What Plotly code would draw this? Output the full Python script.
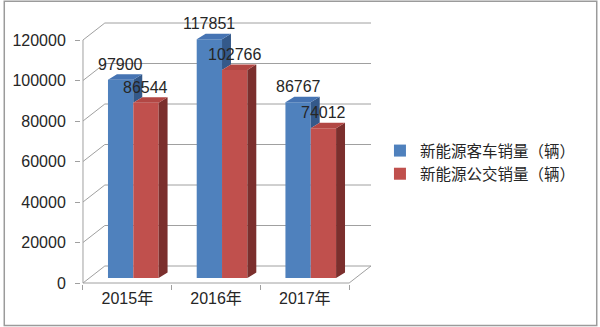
import plotly.graph_objects as go

# ---- data ----
categories = ["2015年", "2016年", "2017年"]
bus_sales = [97900, 117851, 86767]        # 新能源客车销量（辆）
transit_sales = [86544, 102766, 74012]    # 新能源公交销量（辆）
series_names = ["新能源客车销量（辆）", "新能源公交销量（辆）"]
y_ticks = [0, 20000, 40000, 60000, 80000, 100000, 120000]
y_tick_text = ["0", "20000", "40000", "60000", "80000", "100000", "120000"]

# ---- geometry (pixels) ----
W, H = 600, 327
ML, MR, MT, MB = 79, 226, 16, 43
PW = W - ML - MR
PH = H - MT - MB
FRONT_LEFT_PX = 81
PX_PER_CAT = 89.33
FRONT_ZERO_PX = 283
PX_PER_UNIT = 243 / 120000


def dxu(px):
    return px / PX_PER_CAT


def dyu(px):
    return px / PX_PER_UNIT


x_lo = -0.5 - dxu(FRONT_LEFT_PX - ML)
x_hi = x_lo + dxu(PW)
y_lo = -dyu(H - MB - FRONT_ZERO_PX)
y_hi = y_lo + dyu(PH)

FONT = "Liberation Sans, Arial, Noto Sans CJK SC, sans-serif"
GRID = "#a0a0a0"
TEXT = "#262626"
BLUE, BLUE_TOP, BLUE_SIDE = "#4F81BD", "#4674B3", "#34598A"
RED, RED_TOP, RED_SIDE = "#C0504D", "#B24744", "#7B2F2D"

n = len(categories)
xl, xr = -0.5, n - 0.5
bx, by = dxu(22), dyu(17)        # depth of back wall
bw = dxu(25.5)                   # bar width
boff = dxu(6)                    # bar plane shift
base = dyu(5)
ddx, ddy = dxu(9), dyu(5.5)      # bar depth

fig = go.Figure()

# ---- walls / gridlines (subplot xy, below bars) ----
wx, wy = [], []
for v in y_ticks:
    wx += [xl, xl + bx, xr + bx, None]
    wy += [v, v + by, v + by, None]
wx += [xl, xr, xr + bx, None]
wy += [0, 0, by, None]
wx += [xl, xl, None]
wy += [0, y_ticks[-1], None]
fig.add_trace(go.Scatter(x=wx, y=wy, mode="lines", line=dict(color=GRID, width=1),
                         showlegend=False, hoverinfo="skip", xaxis="x", yaxis="y"))

# ---- bars (overlay subplot x2y2) ----
xs = list(range(n))
fig.add_trace(go.Bar(x=xs, y=bus_sales, base=[base] * n, offset=boff - bw, width=bw,
                     marker=dict(color=BLUE, line=dict(width=0)), name=series_names[0],
                     xaxis="x2", yaxis="y2"))
fig.add_trace(go.Bar(x=xs, y=transit_sales, base=[base] * n, offset=boff, width=bw,
                     marker=dict(color=RED, line=dict(width=0)), name=series_names[1],
                     xaxis="x2", yaxis="y2"))


def poly_trace(px, py, color):
    return go.Scatter(x=px, y=py, mode="lines", fill="toself", fillcolor=color,
                      line=dict(width=0, color=color), showlegend=False,
                      hoverinfo="skip", xaxis="x2", yaxis="y2")


bsx, bsy, btx, bty, rsx, rsy, rtx, rty = ([] for _ in range(8))
for i in range(n):
    b, r = bus_sales[i], transit_sales[i]
    x0, x1 = i + boff - bw, i + boff
    t = base + b
    low = base + min(b, r)
    bsx += [x1, x1, x1 + ddx, x1 + ddx, x1, None]
    bsy += [low, t, t + ddy, low + ddy, low, None]
    btx += [x0, x1, x1 + ddx, x0 + ddx, x0, None]
    bty += [t, t, t + ddy, t + ddy, t, None]
    rx0, rx1 = i + boff, i + boff + bw
    tr = base + r
    rsx += [rx1, rx1, rx1 + ddx, rx1 + ddx, rx1, None]
    rsy += [base, tr, tr + ddy, base + ddy, base, None]
    rtx += [rx0, rx1, rx1 + ddx, rx0 + ddx, rx0, None]
    rty += [tr, tr, tr + ddy, tr + ddy, tr, None]

fig.add_trace(poly_trace(bsx, bsy, BLUE_SIDE))
fig.add_trace(poly_trace(btx, bty, BLUE_TOP))
fig.add_trace(poly_trace(rsx, rsy, RED_SIDE))
fig.add_trace(poly_trace(rtx, rty, RED_TOP))

# ---- value labels ----
annotations = []
for i in range(n):
    for vals, shift in ((bus_sales, boff - bw / 2), (transit_sales, boff + bw / 2)):
        annotations.append(dict(x=i + shift, y=base + vals[i], xref="x2", yref="y2",
                                text=str(vals[i]), showarrow=False, yanchor="middle",
                                yshift=15.5, font=dict(family=FONT, size=16, color=TEXT)))

fig.update_layout(
    width=W, height=H,
    margin=dict(l=ML, r=MR, t=MT, b=MB, pad=0),
    paper_bgcolor="white", plot_bgcolor="rgba(0,0,0,0)",
    font=dict(family=FONT, size=16, color=TEXT),
    barmode="overlay",
    xaxis=dict(range=[x_lo, x_hi], showgrid=False, zeroline=False, showline=False,
               tickmode="array", tickvals=xs, ticktext=categories, ticks="",
               ticklabelstandoff=3,
               minor=dict(tickmode="array", tickvals=[k - 0.5 for k in range(n + 1)],
                          ticks="outside", ticklen=5, tickcolor=GRID, tickwidth=1),
               tickfont=dict(family=FONT, size=16, color=TEXT)),
    yaxis=dict(range=[y_lo, y_hi], showgrid=False, zeroline=False, showline=False,
               tickmode="array", tickvals=y_ticks, ticktext=y_tick_text,
               ticks="outside", ticklen=5, tickcolor=GRID, ticklabelstandoff=6,
               tickfont=dict(family=FONT, size=16, color=TEXT)),
    xaxis2=dict(range=[x_lo, x_hi], overlaying="x", visible=False),
    yaxis2=dict(range=[y_lo, y_hi], overlaying="y", visible=False),
    legend=dict(x=(380 - ML) / PW, xanchor="left", y=(H - MB - 162.5) / PH, yanchor="middle",
                font=dict(family=FONT, size=15.5, color=TEXT), bgcolor="rgba(0,0,0,0)",
                traceorder="normal"),
    annotations=annotations,
    shapes=[dict(type="rect", xref="paper", yref="paper",
                 x0=(1.75 - ML) / PW, x1=(598.25 - ML) / PW,
                 y0=(H - MB - 325.5) / PH, y1=(H - MB - 1.25) / PH,
                 line=dict(color="#9b9b9b", width=1.5), fillcolor="rgba(0,0,0,0)")],
)

fig.write_html("out.html")
